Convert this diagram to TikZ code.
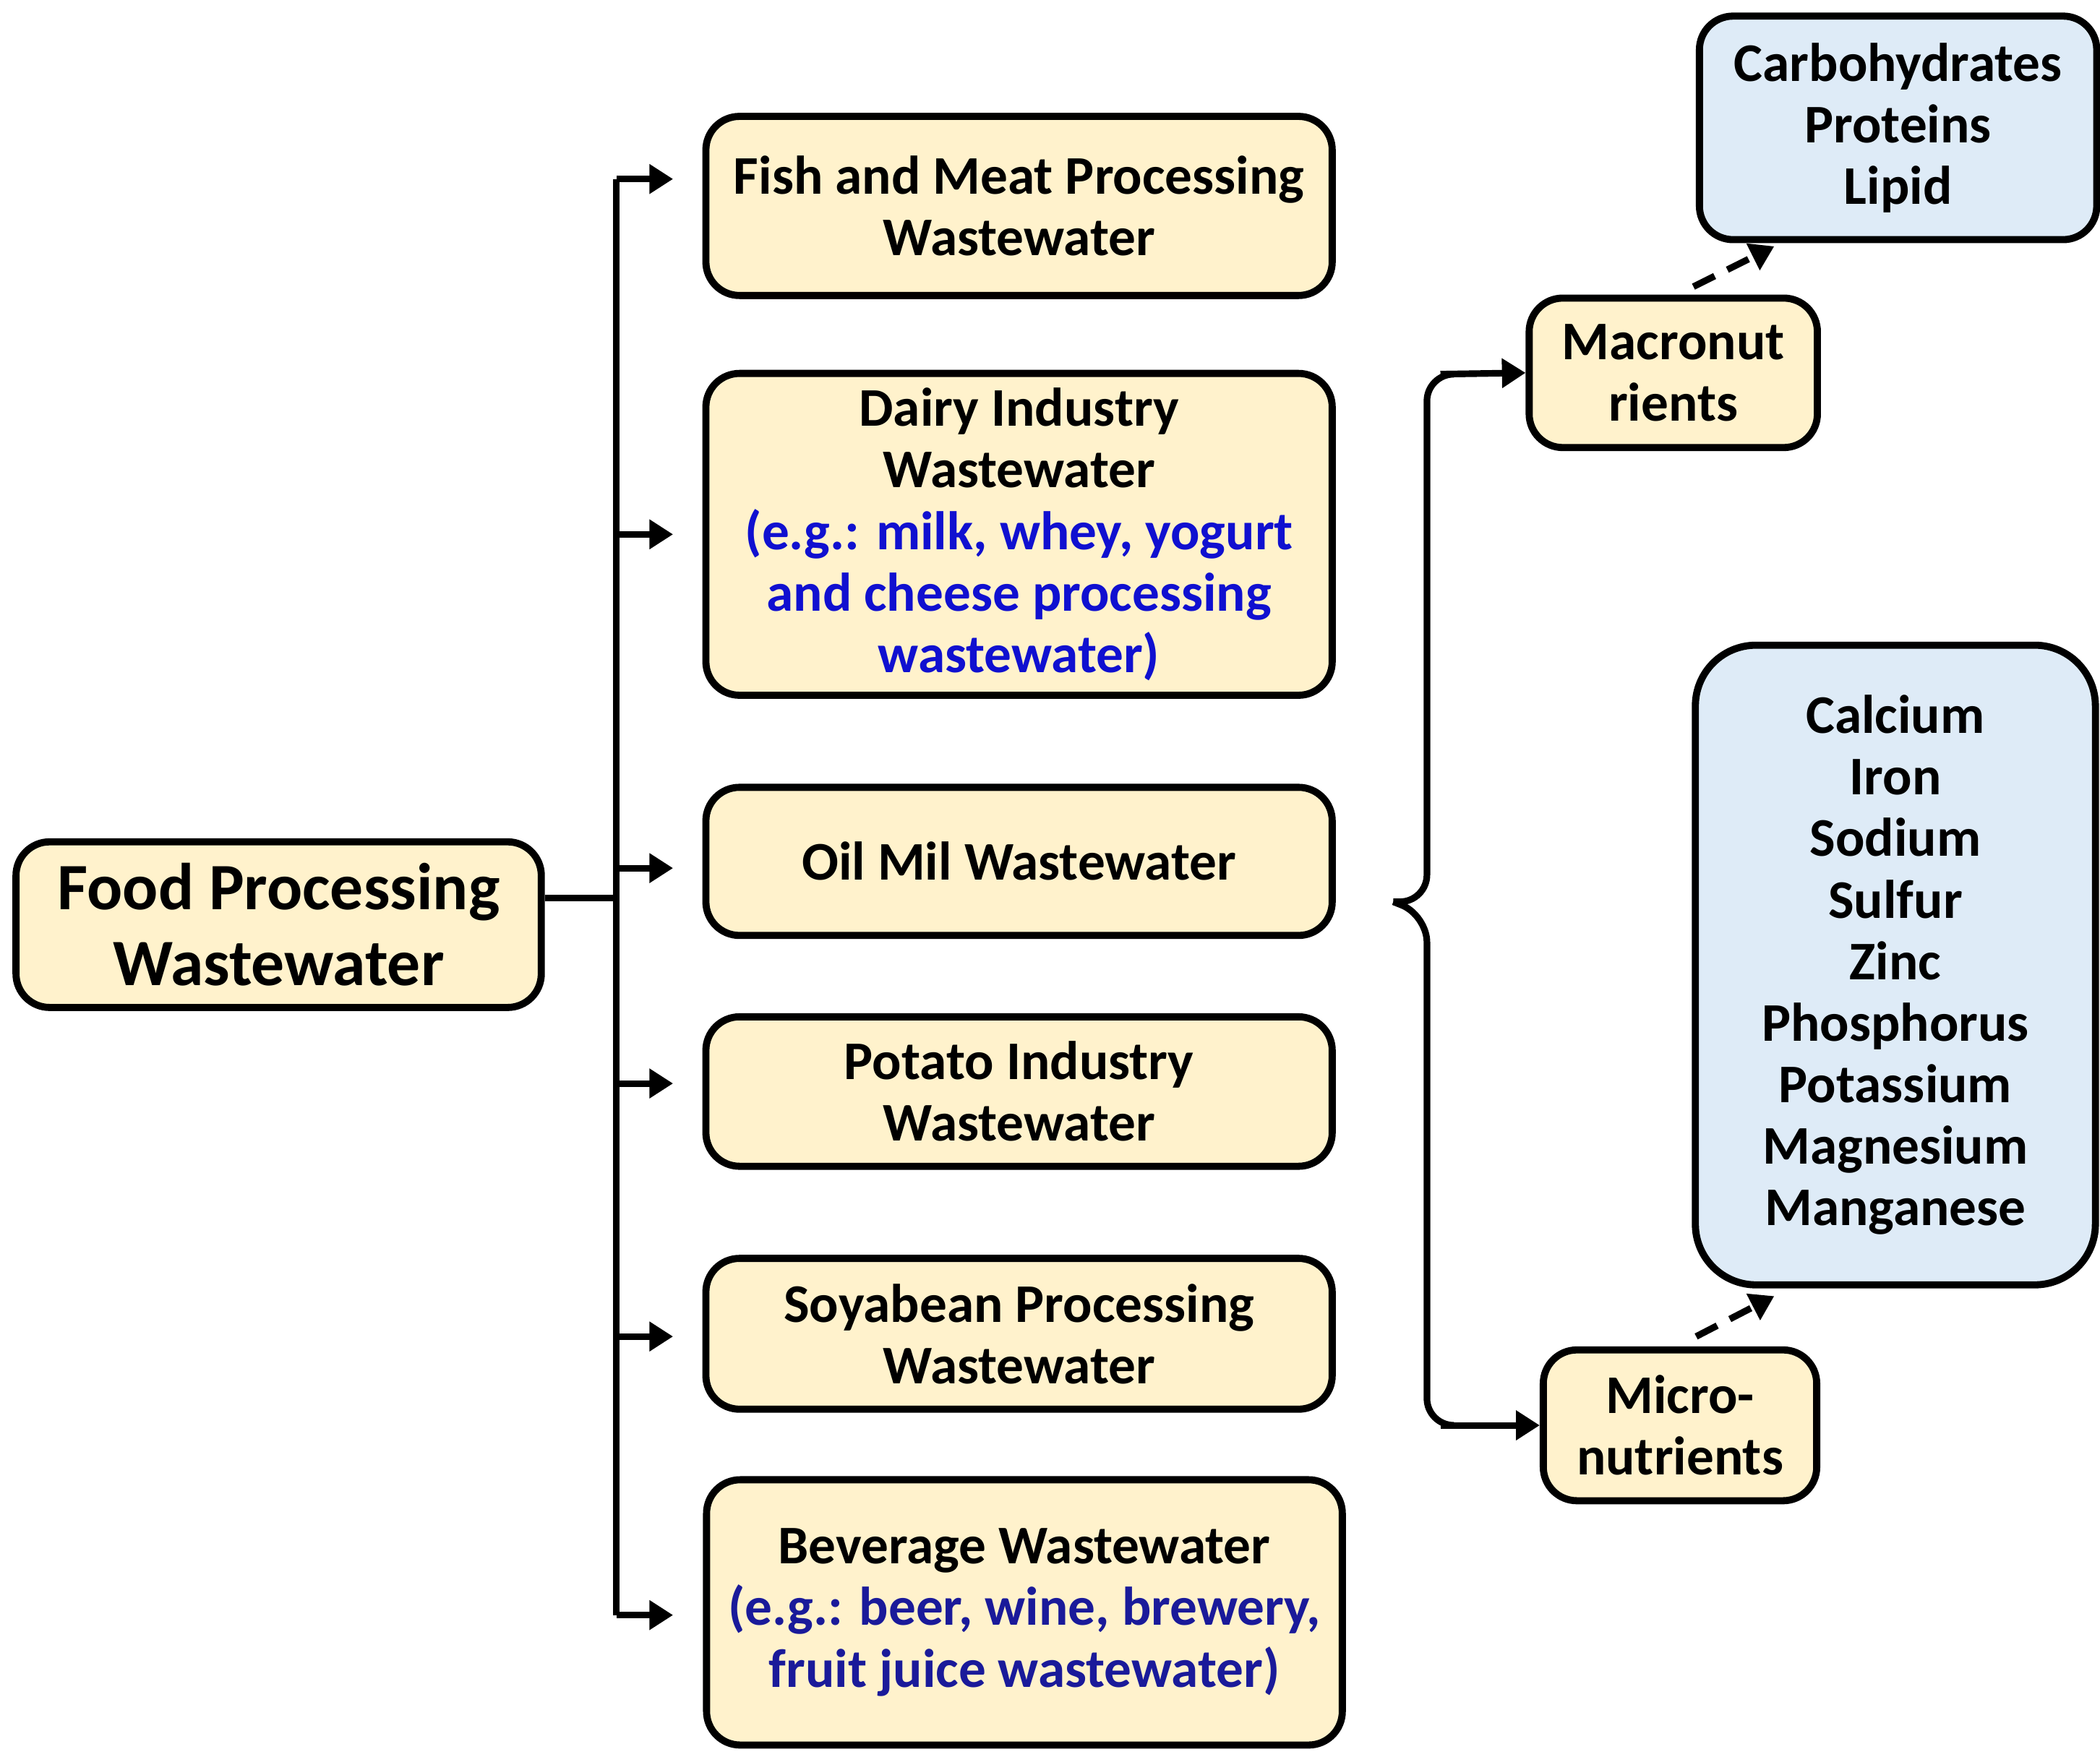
\documentclass[tikz,border=0pt]{standalone}
\usepackage{fontspec}
\setmainfont{Carlito}
\usetikzlibrary{arrows.meta}
\definecolor{boxyellow}{HTML}{FFF2CC}
\definecolor{boxblue}{HTML}{DEEBF7}
\definecolor{egblue}{HTML}{1010D0}
\definecolor{egnavy}{HTML}{1A1A9A}
\tikzset{
  box/.style={draw, line width=1.5pt, rounded corners=0.25cm, fill=boxyellow,
    align=center, font=\fontsize{11.5}{13}\selectfont\bfseries, inner sep=2pt},
  bluebox/.style={box, fill=boxblue},
  link/.style={line width=1.4pt, -{Triangle[length=5pt,width=6pt]}},
  dlink/.style={link, dashed, dash pattern=on 5pt off 3pt}
}
\begin{document}
\begin{tikzpicture}[x=0.01cm,y=-0.01cm]
\useasboundingbox (0,0) rectangle (1560,1305);
\node(food) [box, minimum width=3.9cm, minimum height=1.23cm, font=\fontsize{14}{16}\selectfont\bfseries] at (207,687) {Food Processing\\Wastewater};
\node(fish) [box, minimum width=4.65cm, minimum height=1.33cm] at (757,153) {Fish and Meat Processing\\Wastewater};
\node(dairy) [box, minimum width=4.65cm, minimum height=2.39cm] at (757,397) {Dairy Industry\\Wastewater\\\textcolor{egblue}{(e.g.: milk, whey, yogurt}\\\textcolor{egblue}{and cheese processing}\\\textcolor{egblue}{wastewater)}};
\node(oil) [box, minimum width=4.65cm, minimum height=1.1cm] at (757,640) {Oil Mil Wastewater};
\node(potato) [box, minimum width=4.65cm, minimum height=1.11cm] at (757,811) {Potato Industry\\Wastewater};
\node(soy) [box, minimum width=4.65cm, minimum height=1.12cm] at (757,991) {Soyabean Processing\\Wastewater};
\node(bev) [box, minimum width=4.72cm, minimum height=1.97cm] at (761,1198) {Beverage Wastewater\\\textcolor{egnavy}{(e.g.: beer, wine, brewery,}\\\textcolor{egnavy}{fruit juice wastewater)}};
\node(macro) [box, minimum width=2.14cm, minimum height=1.11cm] at (1243,277) {Macronut\\rients};
\node(micro) [box, minimum width=2.03cm, minimum height=1.12cm] at (1248,1059) {Micro-\\nutrients};
\node(carb) [bluebox, minimum width=2.95cm, minimum height=1.66cm] at (1410,95) {Carbohydrates\\Proteins\\Lipid};
\node(mineral) [bluebox, minimum width=2.97cm, minimum height=4.75cm, rounded corners=0.45cm] at (1408,717) {Calcium\\Iron\\Sodium\\Sulfur\\Zinc\\Phosphorus\\Potassium\\Magnesium\\Manganese};
% trunk
\coordinate(tTop) at (458,133);
\coordinate(tBot) at (458,1200);
\draw[line width=1.4pt] (food.east |- 0,667) -- (458,667);
\draw[line width=1.4pt] (tTop) -- (tBot);
\foreach \y/\n in {133/fish,397/dairy,645/oil,805/potato,993/soy,1200/bev}
  \draw[link] (458,\y) -- (500,\y);
% brace
\coordinate(bTip) at (1035,670);
\draw[line width=1.4pt, rounded corners=0.2cm] (bTip) -- (1060,670) -- (1060,278) -- (1075,278);
\draw[line width=1.4pt, rounded corners=0.2cm] (bTip) -- (1060,680) -- (1060,1059) -- (1075,1059);
\draw[link] (1070,278) -- (macro.west);
\draw[link] (1070,1059) -- (micro.west);
\draw[dlink] (1258,213) -- (1318,183);
\draw[dlink] (1260,993) -- (1318,963);
\end{tikzpicture}
\end{document}
